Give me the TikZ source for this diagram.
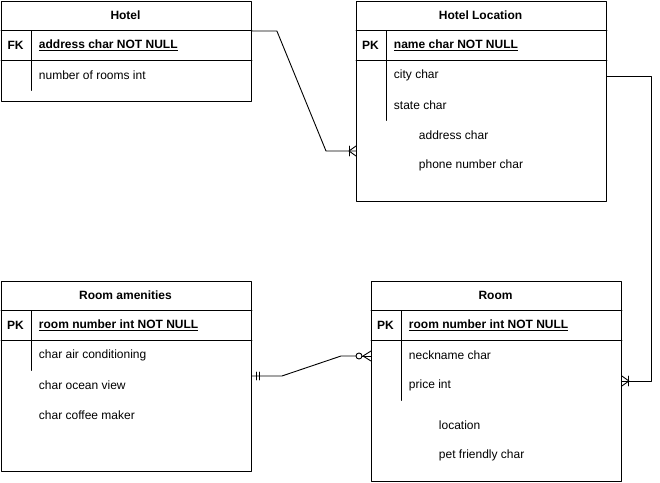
\documentclass[tikz,border=0pt]{standalone}
\usepackage{fontspec}
\setmainfont{Liberation Sans}
\usetikzlibrary{positioning}
\begin{document}
\begin{tikzpicture}[x=1pt,y=-1pt,line join=round,line cap=round,line width=0.9pt]
	\tikzset{every node/.style={font=\fontsize{12}{14}\selectfont,inner sep=0pt},
		tbl/.style={draw,rectangle,minimum width=250pt,anchor=north west},
		ttl/.style={font=\fontsize{12}{14}\selectfont\bfseries},
		keytxt/.style={font=\fontsize{12}{14}\selectfont\bfseries},
		fld/.style={anchor=west}}
	\useasboundingbox (-0.5,-0.5) rectangle (659.5,481.5);
	% tables
	\node[tbl,minimum height=100pt] (hotel) at (0.5,0.5) {};
	\node[tbl,minimum height=200pt] (hloc) at (355.5,0.5) {};
	\node[tbl,minimum height=190pt] (amen) at (0.5,280.5) {};
	\node[tbl,minimum height=200pt] (room) at (370.5,280.5) {};
	% row lines
	\foreach \t/\ys/\ye in {hotel/0/90,hloc/0/120,amen/280/370,room/280/400}{
		\draw (\t.west |- 0,\ys+30) -- (\t.east |- 0,\ys+30);
		\draw (\t.west |- 0,\ys+60) -- (\t.east |- 0,\ys+60);
		\draw ([xshift=30pt]\t.west |- 0,\ys+30) -- ([xshift=30pt]\t.west |- 0,\ye);
	}
	% Hotel
	\node[ttl] (hotelT) at (125,15) {Hotel};
	\node[keytxt] (hotelK) at (15,45) {FK};
	\node[fld,keytxt] (hotelF1) at (38,45) {\underline{address char NOT NULL}};
	\node[fld] (hotelF2) at (38,75) {number of rooms int};
	% Hotel Location
	\node[ttl] (hlocT) at (480,15) {Hotel Location};
	\node[keytxt] (hlocK) at (370,45) {PK};
	\node[fld,keytxt] (hlocF1) at (393,45) {\underline{name char NOT NULL}};
	\node[fld] (hlocF2) at (393,75) {city char};
	\node[fld] (hlocF3) at (393,105) {state char};
	\node[fld] (hlocF4) at (418,135) {address char};
	\node[fld] (hlocF5) at (418,165) {phone number char};
	% Room amenities
	\node[ttl] (amenT) at (125,295) {Room amenities};
	\node[keytxt] (amenK) at (15,325) {PK};
	\node[fld,keytxt] (amenF1) at (38,325) {\underline{room number int NOT NULL}};
	\node[fld] (amenF2) at (38,355) {char air conditioning};
	\node[fld] (amenF3) at (38,385) {char ocean view};
	\node[fld] (amenF4) at (38,415) {char coffee maker};
	% Room
	\node[ttl] (roomT) at (495,295) {Room};
	\node[keytxt] (roomK) at (385,325) {PK};
	\node[fld,keytxt] (roomF1) at (408,325) {\underline{room number int NOT NULL}};
	\node[fld] (roomF2) at (408,355) {neckname char};
	\node[fld] (roomF3) at (408,385) {price int};
	\node[fld] (roomF4) at (438,425) {location};
	\node[fld] (roomF5) at (438,455) {pet friendly char};
	% connector ends
	\coordinate (hotelOut) at (hotel.east |- 0,30.5);
	\coordinate (hlocIn) at (hloc.west |- 0,150.5);
	\coordinate (hlocOut) at (hloc.east |- 0,75.5);
	\coordinate (roomIn) at (room.east |- 0,380.5);
	\coordinate (amenOut) at (amen.east |- 0,375.5);
	\coordinate (roomIn2) at (room.west |- 0,355.5);
	% Hotel -> Hotel Location
	\draw (hotelOut) -- ++(25,0) -- (325.5,150.5) -- (hlocIn);
	\draw ([xshift=-7pt]hlocIn) ++(0,-5) -- ++(0,10);
	\draw ([xshift=-7pt]hlocIn) -- ++(7,-5) ([xshift=-7pt]hlocIn) -- ++(7,5);
	% Hotel Location -> Room
	\draw (hlocOut) -- (650.5,75.5) -- (650.5,380.5) -- (roomIn);
	\draw ([xshift=7pt]roomIn) ++(0,-5) -- ++(0,10);
	\draw ([xshift=7pt]roomIn) -- ++(-7,-5) ([xshift=7pt]roomIn) -- ++(-7,5);
	% Room amenities -> Room
	\draw (amenOut) -- ++(30,0) -- (340.5,355.5) -- ([xshift=-15pt]roomIn2);
	\draw ([xshift=-9pt]roomIn2) -- (roomIn2);
	\foreach \dx in {5,8}
	\draw ([xshift=\dx pt]amenOut) ++(0,-4) -- ++(0,8);
	\draw ([xshift=-12pt]roomIn2) circle (3pt);
	\draw ([xshift=-8pt]roomIn2) -- ++(8,-5) ([xshift=-8pt]roomIn2) -- ++(8,5);
\end{tikzpicture}
\end{document}
